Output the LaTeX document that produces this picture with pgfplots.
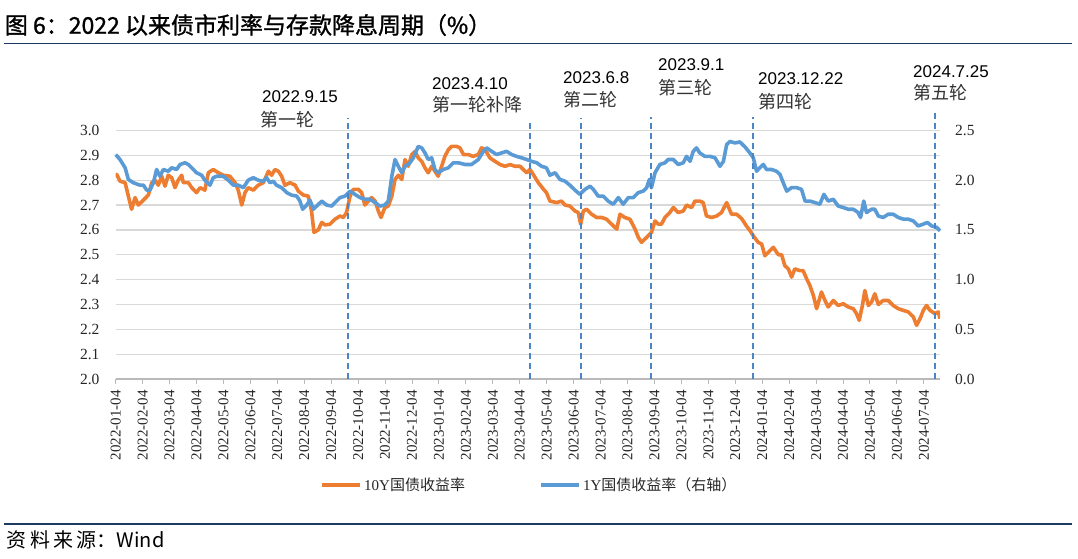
\documentclass[border=0pt]{standalone}
\usepackage{fontspec}
\usepackage{pgfplots}
\pgfplotsset{compat=1.18}
\setmainfont{Liberation Serif}
\newfontfamily\cjk{Noto Sans CJK SC}
\newfontface\cjkt{Noto Sans CJK SC}[FakeBold=1.2]
\newfontfamily\sans{Liberation Sans}
\definecolor{c10}{HTML}{ED7D31}
\definecolor{c1}{HTML}{5B9BD5}
\definecolor{dashc}{HTML}{4A86C5}
\definecolor{navy}{HTML}{1F3A60}
\definecolor{gridc}{HTML}{D9D9D9}
\definecolor{tickc}{HTML}{262626}
\definecolor{annc}{HTML}{333333}

\begin{document}
\begin{tikzpicture}
\useasboundingbox (-115.7pt,-179pt) rectangle (962.3pt,379pt);
% title and rules
\node[anchor=west, inner sep=0pt] at (-111pt,354pt) {\cjkt\fontsize{23}{26}\selectfont 图 6：2022 以来债市利率与存款降息周期（\%）};
\draw[navy, line width=1.5pt] (-112pt,335.5pt) -- (956pt,335.5pt);
\draw[navy, line width=1.5pt] (-112pt,-145pt) -- (956pt,-145pt);
\node[anchor=west, inner sep=0pt] at (-109pt,-161pt) {\cjk\fontsize{20}{24}\selectfont 资\,料\,来\,源：Wind};

\begin{axis}[
  at={(0pt,0pt)}, anchor=south west, scale only axis,
  width=824.3pt, height=248.5pt,
  xmin=0, xmax=30.6, ymin=2.0, ymax=3.0,
  axis lines*=left,
  x axis line style={draw=gray!55, line width=1.3pt},
  y axis line style={draw=none},
  ytick={2.0,2.1,2.2,2.3,2.4,2.5,2.6,2.7,2.8,2.9,3.0},
  ymajorgrids, grid style={color=gridc, line width=1.3pt},
  ytick style={draw=none},
  xtick={0,1,...,30},
  xticklabels={2022-01-04,2022-02-04,2022-03-04,2022-04-04,2022-05-04,2022-06-04,2022-07-04,2022-08-04,2022-09-04,2022-10-04,2022-11-04,2022-12-04,2023-01-04,2023-02-04,2023-03-04,2023-04-04,2023-05-04,2023-06-04,2023-07-04,2023-08-04,2023-09-04,2023-10-04,2023-11-04,2023-12-04,2024-01-04,2024-02-04,2024-03-04,2024-04-04,2024-05-04,2024-06-04,2024-07-04},
  tick align=outside, major tick length=5pt,
  xtick style={draw=gray!55, line width=1pt},
  xticklabel style={font=\fontsize{15}{18}\selectfont, color=tickc, inner sep=0pt, rotate=90, anchor=east, xshift=-6pt},
  yticklabel style={font=\fontsize{15.5}{18}\selectfont, color=tickc, inner sep=0pt, anchor=east, xshift=-11pt},
  /pgf/number format/assume math mode=true,
  yticklabel={\pgfmathprintnumber[fixed,fixed zerofill,precision=1]{\tick}},
  legend columns=2,
  legend style={at={(0.2479,-0.4266)}, anchor=west, draw=none, fill=none, inner sep=0pt,
    font=\fontsize{15}{18}\selectfont,
    nodes={inner sep=2pt, text=tickc},
    /tikz/every even column/.append style={column sep=72pt}},
  legend image code/.code={\draw[#1, line width=4pt] (0pt,0pt) -- (38pt,0pt);},
]
\addplot[c10, line width=3.6pt, line join=round, mark=none] coordinates {
(0,2.816) (0.04,2.823) (0.16,2.796) (0.35,2.79) (0.47,2.736) (0.59,2.683) (0.72,2.73) (0.84,2.70)
(1.03,2.72) (1.21,2.74) (1.34,2.79) (1.46,2.80) (1.58,2.78) (1.71,2.816) (1.83,2.776) (1.95,2.82)
(2.08,2.81) (2.20,2.77) (2.32,2.80) (2.45,2.82) (2.51,2.79) (2.70,2.79) (2.82,2.77) (3.00,2.75)
(3.13,2.77) (3.31,2.76) (3.44,2.83) (3.62,2.843) (3.81,2.83) (3.99,2.82) (4.24,2.816) (4.43,2.79)
(4.55,2.76) (4.68,2.70) (4.80,2.75) (4.92,2.77) (5.11,2.76) (5.29,2.78) (5.48,2.79) (5.67,2.836)
(5.79,2.82) (5.91,2.843) (6.04,2.836) (6.16,2.816) (6.28,2.78) (6.47,2.79) (6.66,2.78) (6.78,2.756)
(6.97,2.74) (7.15,2.736) (7.27,2.676) (7.36,2.59) (7.52,2.60) (7.65,2.63) (7.77,2.62) (7.95,2.623)
(8.14,2.643) (8.33,2.656) (8.45,2.65) (8.57,2.67) (8.70,2.736) (8.82,2.763) (9.01,2.763) (9.13,2.75)
(9.25,2.70) (9.38,2.716) (9.50,2.73) (9.63,2.716) (9.75,2.676) (9.85,2.65) (9.99,2.69) (10.12,2.696)
(10.25,2.736) (10.37,2.803) (10.49,2.82) (10.62,2.803) (10.74,2.883) (10.86,2.856) (10.99,2.903) (11.11,2.916)
(11.23,2.89) (11.36,2.876) (11.48,2.85) (11.60,2.83) (11.73,2.856) (11.85,2.836) (11.97,2.816) (12.10,2.856)
(12.22,2.896) (12.35,2.923) (12.47,2.936) (12.66,2.936) (12.78,2.93) (12.91,2.903) (13.09,2.903) (13.27,2.896)
(13.46,2.903) (13.58,2.93) (13.71,2.923) (13.89,2.89) (14.08,2.876) (14.27,2.863) (14.45,2.856) (14.64,2.863)
(14.82,2.856) (15.01,2.856) (15.13,2.843) (15.26,2.83) (15.38,2.843) (15.50,2.823) (15.69,2.79) (15.87,2.765)
(15.99,2.75) (16.12,2.716) (16.37,2.71) (16.55,2.716) (16.68,2.70) (16.86,2.696) (17.05,2.676) (17.17,2.67)
(17.26,2.623) (17.36,2.676) (17.48,2.683) (17.67,2.663) (17.85,2.65) (18.04,2.65) (18.22,2.643) (18.41,2.623)
(18.60,2.603) (18.72,2.663) (18.90,2.65) (19.09,2.643) (19.28,2.603) (19.40,2.57) (19.52,2.55) (19.71,2.57)
(19.89,2.59) (20.02,2.636) (20.14,2.623) (20.26,2.623) (20.39,2.65) (20.57,2.67) (20.70,2.69) (20.88,2.67)
(21.07,2.676) (21.19,2.70) (21.38,2.69) (21.50,2.716) (21.68,2.716) (21.81,2.71) (21.93,2.656) (22.12,2.65)
(22.31,2.656) (22.49,2.67) (22.68,2.71) (22.86,2.663) (23.05,2.663) (23.24,2.645) (23.42,2.615) (23.54,2.598)
(23.67,2.576) (23.85,2.55) (23.98,2.543) (24.10,2.496) (24.23,2.51) (24.41,2.53) (24.60,2.50) (24.72,2.50)
(24.84,2.456) (24.97,2.443) (25.09,2.41) (25.21,2.443) (25.40,2.436) (25.52,2.436) (25.65,2.403) (25.77,2.376)
(25.90,2.336) (26.02,2.283) (26.20,2.35) (26.33,2.316) (26.45,2.29) (26.64,2.316) (26.82,2.296) (27.01,2.303)
(27.19,2.29) (27.38,2.283) (27.50,2.263) (27.60,2.236) (27.72,2.296) (27.81,2.356) (27.94,2.296) (28.06,2.31)
(28.18,2.343) (28.31,2.30) (28.49,2.316) (28.68,2.316) (28.86,2.296) (29.05,2.283) (29.24,2.276) (29.42,2.27)
(29.61,2.25) (29.73,2.216) (29.86,2.243) (29.98,2.276) (30.10,2.296) (30.23,2.276) (30.41,2.263) (30.54,2.27)
(30.60,2.243)
};
\addlegendentry{10Y{\cjk 国债收益率}}
\addlegendimage{c1, line width=4pt}
\addlegendentry{1Y{\cjk 国债收益率（右轴）}}
\end{axis}

\begin{axis}[
  at={(0pt,0pt)}, anchor=south west, scale only axis,
  width=824.3pt, height=248.5pt,
  xmin=0, xmax=30.6, ymin=0, ymax=2.5,
  axis y line*=right, axis x line=none,
  y axis line style={draw=none},
  ytick={0,0.5,1.0,1.5,2.0,2.5},
  ytick style={draw=none},
  yticklabel style={font=\fontsize{15.5}{18}\selectfont, color=tickc, inner sep=0pt, anchor=west, xshift=15pt},
  /pgf/number format/assume math mode=true,
  yticklabel={\pgfmathprintnumber[fixed,fixed zerofill,precision=1]{\tick}},
  clip=false,
]
\addplot[c1, line width=3.6pt, line join=round, mark=none] coordinates {
(0,2.258) (0.16,2.208) (0.35,2.125) (0.47,2.008) (0.65,1.975) (0.90,1.95) (1.03,1.95) (1.15,1.90)
(1.27,1.90) (1.40,1.975) (1.52,2.108) (1.64,2.04) (1.77,2.108) (1.95,2.09) (2.08,2.125) (2.26,2.108)
(2.39,2.158) (2.57,2.175) (2.70,2.158) (2.82,2.125) (3.00,2.075) (3.19,2.05) (3.31,2.00) (3.50,1.95)
(3.62,2.025) (3.75,2.04) (3.99,2.04) (4.18,2.00) (4.37,1.95) (4.55,1.95) (4.74,1.925) (4.92,2.00)
(5.11,2.025) (5.29,2.00) (5.48,1.99) (5.60,2.025) (5.73,1.975) (5.85,1.99) (5.97,1.95) (6.16,1.925)
(6.35,1.875) (6.53,1.85) (6.72,1.84) (6.84,1.79) (6.94,1.708) (7.09,1.75) (7.21,1.80) (7.34,1.708)
(7.46,1.74) (7.65,1.79) (7.83,1.75) (8.02,1.74) (8.14,1.775) (8.33,1.825) (8.51,1.84) (8.70,1.89)
(8.88,1.858) (9.07,1.825) (9.25,1.808) (9.44,1.808) (9.63,1.775) (9.81,1.74) (9.99,1.75) (10.12,1.79)
(10.25,2.04) (10.37,2.208) (10.49,2.14) (10.62,2.075) (10.74,2.14) (10.92,2.175) (11.05,2.225) (11.23,2.34)
(11.36,2.325) (11.48,2.275) (11.60,2.208) (11.73,2.225) (11.85,2.108) (11.97,2.075) (12.16,2.108) (12.35,2.125)
(12.53,2.175) (12.72,2.175) (12.97,2.158) (13.21,2.158) (13.46,2.208) (13.65,2.29) (13.77,2.325) (13.96,2.29)
(14.14,2.258) (14.33,2.275) (14.51,2.29) (14.70,2.258) (14.88,2.24) (15.07,2.225) (15.26,2.208) (15.44,2.19)
(15.63,2.175) (15.81,2.14) (15.99,2.125) (16.12,2.05) (16.31,2.075) (16.49,2.008) (16.68,1.99) (16.86,1.95)
(17.05,1.90) (17.23,1.858) (17.42,1.908) (17.61,1.94) (17.73,1.908) (17.91,1.84) (18.10,1.84) (18.28,1.79)
(18.47,1.758) (18.66,1.825) (18.84,1.758) (19.03,1.825) (19.21,1.825) (19.40,1.875) (19.58,1.89) (19.71,1.925)
(19.81,2.008) (19.89,1.925) (20.02,2.075) (20.20,2.158) (20.39,2.175) (20.51,2.208) (20.70,2.208) (20.88,2.158)
(21.07,2.175) (21.19,2.24) (21.32,2.19) (21.44,2.29) (21.56,2.325) (21.68,2.275) (21.87,2.24) (22.06,2.24)
(22.25,2.225) (22.43,2.14) (22.56,2.19) (22.68,2.358) (22.80,2.39) (22.99,2.375) (23.17,2.385) (23.36,2.335)
(23.54,2.275) (23.67,2.225) (23.79,2.09) (23.91,2.125) (24.04,2.158) (24.16,2.108) (24.35,2.108) (24.53,2.09)
(24.66,2.058) (24.78,1.975) (24.91,1.89) (25.09,1.925) (25.28,1.925) (25.46,1.908) (25.59,1.79) (25.77,1.79)
(25.96,1.775) (26.14,1.758) (26.29,1.858) (26.45,1.79) (26.64,1.808) (26.82,1.74) (27.01,1.725) (27.19,1.708)
(27.38,1.708) (27.56,1.675) (27.65,1.625) (27.77,1.79) (27.87,1.675) (28.06,1.708) (28.18,1.708) (28.31,1.64)
(28.49,1.625) (28.68,1.658) (28.86,1.658) (29.05,1.625) (29.24,1.608) (29.42,1.608) (29.61,1.59) (29.79,1.54)
(29.98,1.558) (30.13,1.575) (30.29,1.54) (30.48,1.525) (30.60,1.49)
};
% dashed cycle markers
\addplot[dashc, line width=2pt, dash pattern=on 6pt off 4pt, mark=none] coordinates {(8.64,0) (8.64,2.625)};
\addplot[dashc, line width=2pt, dash pattern=on 6pt off 4pt, mark=none] coordinates {(15.38,0) (15.38,2.605)};
\addplot[dashc, line width=2pt, dash pattern=on 6pt off 4pt, mark=none] coordinates {(17.27,0) (17.27,2.625)};
\addplot[dashc, line width=2pt, dash pattern=on 6pt off 4pt, mark=none] coordinates {(19.87,0) (19.87,2.635)};
\addplot[dashc, line width=2pt, dash pattern=on 6pt off 4pt, mark=none] coordinates {(23.64,0) (23.64,2.635)};
\addplot[dashc, line width=2pt, dash pattern=on 6pt off 4pt, mark=none] coordinates {(30.41,0) (30.41,2.705)};
\end{axis}

% annotations
\begin{scope}[every node/.style={anchor=west, inner sep=0pt}]
\node at (146.3pt,282pt) {\sans\fontsize{17}{20}\selectfont 2022.9.15};
\node[text=annc] at (144.3pt,259pt) {\cjk\fontsize{18}{20}\selectfont 第一轮};
\node at (316.3pt,295pt) {\sans\fontsize{17}{20}\selectfont 2023.4.10};
\node[text=annc] at (316.3pt,274pt) {\cjk\fontsize{18}{20}\selectfont 第一轮补降};
\node at (447.3pt,301pt) {\sans\fontsize{17}{20}\selectfont 2023.6.8};
\node[text=annc] at (447.3pt,279pt) {\cjk\fontsize{18}{20}\selectfont 第二轮};
\node at (542.3pt,314pt) {\sans\fontsize{17}{20}\selectfont 2023.9.1};
\node[text=annc] at (542.3pt,291pt) {\cjk\fontsize{18}{20}\selectfont 第三轮};
\node at (642.3pt,300pt) {\sans\fontsize{17}{20}\selectfont 2023.12.22};
\node[text=annc] at (642.3pt,277pt) {\cjk\fontsize{18}{20}\selectfont 第四轮};
\node at (797.3pt,307pt) {\sans\fontsize{17}{20}\selectfont 2024.7.25};
\node[text=annc] at (797.3pt,286pt) {\cjk\fontsize{18}{20}\selectfont 第五轮};
\end{scope}
\end{tikzpicture}
\end{document}
